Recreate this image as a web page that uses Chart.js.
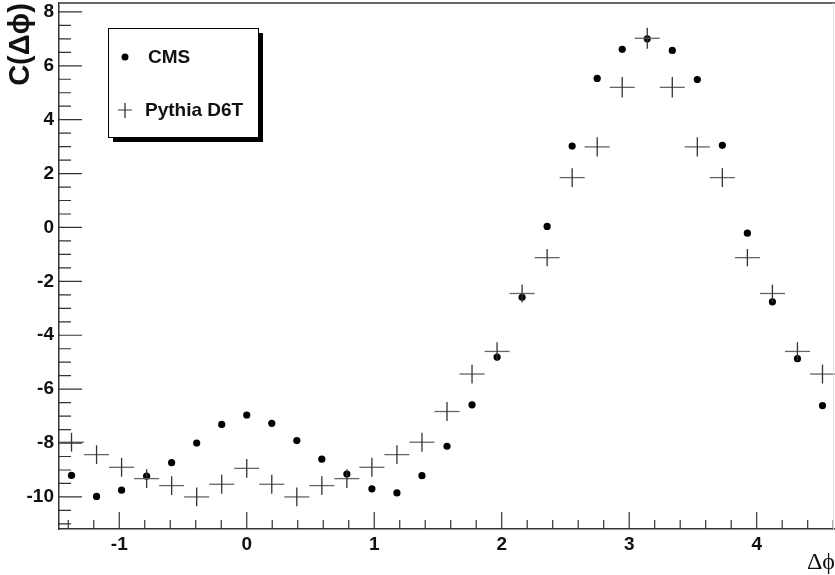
<!DOCTYPE html>
<html>
<head>
<meta charset="utf-8">
<script src="https://cdn.jsdelivr.net/npm/chart.js@4.4.1/dist/chart.umd.min.js"></script>
<style>
  html, body { margin: 0; padding: 0; background: #fff; overflow: hidden; }
  canvas { display: block; }
</style>
</head>
<body>
<canvas id="corrChart" width="835" height="575"></canvas>
<script>
// bins of width pi/16, centre of bin k at k*pi/16
const binIdx = [-7, -6, -5, -4, -3, -2, -1, 0, 1, 2, 3, 4, 5, 6, 7, 8,
                9, 10, 11, 12, 13, 14, 15, 16, 17, 18, 19, 20, 21, 22, 23];
const cmsVals = [-9.20, -9.98, -9.75, -9.23, -8.73, -8.00, -7.31, -6.96, -7.27, -7.91, -8.60,
                 -9.15, -9.70, -9.85, -9.21, -8.12, -6.58, -4.81, -2.59, 0.04, 3.02, 5.53,
                 6.61, 7.00, 6.57, 5.49, 3.05, -0.21, -2.76, -4.87, -6.61];
const pythiaVals = [-7.97, -8.43, -8.90, -9.32, -9.58, -10.00, -9.53, -8.94, -9.53, -10.00, -9.58,
                    -9.32, -8.90, -8.43, -7.97, -6.83, -5.44, -4.60, -2.45, -1.12, 1.85, 2.99,
                    5.20, 7.02, 5.20, 2.99, 1.85, -1.12, -2.45, -4.60, -5.44];
const pythiaErr = [0.35, 0.35, 0.35, 0.35, 0.35, 0.35, 0.35, 0.35, 0.35, 0.35, 0.35,
                   0.35, 0.35, 0.35, 0.35, 0.35, 0.35, 0.34, 0.33, 0.32, 0.35, 0.36,
                   0.38, 0.39, 0.38, 0.36, 0.35, 0.32, 0.33, 0.34, 0.35];
const yTickLabels = ['-10', '-8', '-6', '-4', '-2', '0', '2', '4', '6', '8'];

const binW = Math.PI / 16;
const xMin = -7.5 * binW;
const xMax = 23.5 * binW;
const yMin = -11.19;
const yMax = 8.33;

const boldFont = "'Liberation Sans', Arial, Helvetica, sans-serif";

// ROOT style frame: ticks drawn inside, top line, cross error bars and legend box
const rootFrame = {
    id: 'rootFrame',
    afterDatasetsDraw(chart) {
        const { ctx, chartArea: area, scales } = chart;
        const xs = scales.x, ys = scales.y;

        // pythia crosses: bin width horizontally, error vertically
        const meta = chart.getDatasetMeta(1);
        ctx.save();
        ctx.beginPath();
        ctx.rect(area.left, area.top, area.right - area.left, area.bottom - area.top);
        ctx.clip();
        ctx.lineWidth = 1.3;
        meta.data.forEach((pt, i) => {
            const xv = binIdx[i] * binW;
            const x0 = xs.getPixelForValue(xv - binW / 2);
            const x1 = xs.getPixelForValue(xv + binW / 2);
            const y0 = ys.getPixelForValue(pythiaVals[i] - pythiaErr[i]);
            const y1 = ys.getPixelForValue(pythiaVals[i] + pythiaErr[i]);
            ctx.strokeStyle = '#666';
            ctx.beginPath();
            ctx.moveTo(x0, pt.y); ctx.lineTo(x1, pt.y);
            ctx.stroke();
            ctx.strokeStyle = '#333';
            ctx.beginPath();
            ctx.moveTo(pt.x, y0); ctx.lineTo(pt.x, y1);
            ctx.stroke();
        });
        ctx.restore();
    },
    afterDraw(chart) {
        const { ctx, chartArea: area, scales } = chart;
        const xs = scales.x, ys = scales.y;
        ctx.save();
        ctx.strokeStyle = '#333';
        ctx.lineWidth = 1.2;

        // x ticks every 0.2, long at integers
        ctx.beginPath();
        for (let i = Math.ceil(xMin * 5); i <= Math.floor(xMax * 5); i++) {
            const px = xs.getPixelForValue(i / 5);
            const len = (i % 5 === 0) ? 17 : 9;
            ctx.moveTo(px, area.bottom);
            ctx.lineTo(px, area.bottom - len);
        }
        // y ticks every 0.5, long at even integers
        for (let i = Math.ceil(yMin * 2); i <= Math.floor(yMax * 2); i++) {
            const py = ys.getPixelForValue(i / 2);
            const len = (i % 4 === 0) ? 23 : 12;
            ctx.moveTo(area.left, py);
            ctx.lineTo(area.left + len, py);
        }
        ctx.stroke();

        // top frame line
        ctx.strokeStyle = '#666';
        ctx.lineWidth = 2;
        ctx.beginPath();
        ctx.moveTo(area.left, area.top);
        ctx.lineTo(area.right, area.top);
        ctx.stroke();
        // faint right edge
        ctx.strokeStyle = '#cfe4e4';
        ctx.lineWidth = 1;
        ctx.beginPath();
        ctx.moveTo(area.right - 1.5, area.top);
        ctx.lineTo(area.right - 1.5, area.bottom);
        ctx.stroke();

        // legend box with shadow
        const bx = 108, by = 28, bw = 150, bh = 109;
        ctx.fillStyle = '#000';
        ctx.fillRect(bx + 5, by + 5, bw, bh);
        ctx.fillStyle = '#fff';
        ctx.fillRect(bx, by, bw, bh);
        ctx.strokeStyle = '#000';
        ctx.lineWidth = 1;
        ctx.strokeRect(bx + 0.5, by + 0.5, bw, bh);

        const ds = chart.data.datasets;
        ctx.fillStyle = '#000';
        ctx.beginPath();
        ctx.arc(125, 57, 3.5, 0, Math.PI * 2);
        ctx.fill();
        ctx.lineWidth = 1.3;
        ctx.strokeStyle = '#666';
        ctx.beginPath();
        ctx.moveTo(118, 110); ctx.lineTo(132, 110);
        ctx.stroke();
        ctx.strokeStyle = '#333';
        ctx.beginPath();
        ctx.moveTo(125, 103); ctx.lineTo(125, 118);
        ctx.stroke();

        ctx.fillStyle = '#111';
        ctx.font = "bold 19px " + boldFont;
        ctx.textBaseline = 'middle';
        ctx.textAlign = 'left';
        ctx.fillText(ds[0].label, 148, 58);
        ctx.fillText(ds[1].label, 145, 111);
        ctx.restore();
    }
};

const ctx = document.getElementById('corrChart');
new Chart(ctx, {
    type: 'scatter',
    data: {
        datasets: [{
            label: 'CMS',
            data: binIdx.map((k, i) => ({ x: k * binW, y: cmsVals[i] })),
            backgroundColor: '#000',
            pointRadius: 3.6,
            pointBorderWidth: 0,
            pointStyle: 'circle'
        }, {
            label: 'Pythia D6T',
            data: binIdx.map((k, i) => ({ x: k * binW, y: pythiaVals[i] })),
            pointRadius: 0,
            showLine: false
        }]
    },
    plugins: [rootFrame],
    options: {
        responsive: false,
        devicePixelRatio: 1,
        animation: false,
        events: [],
        layout: { autoPadding: false, padding: { top: 3, right: 0, left: 0, bottom: 0 } },
        plugins: {
            legend: { display: false },
            tooltip: { enabled: false }
        },
        scales: {
            x: {
                type: 'linear',
                min: xMin,
                max: xMax,
                afterFit: (scale) => {
                    scale.height = 46;
                    scale.paddingLeft = 0;
                    scale.paddingRight = 0;
                },
                grid: { display: false, drawTicks: false },
                border: { display: true, color: '#333', width: 1.5 },
                ticks: {
                    stepSize: 1,
                    includeBounds: false,
                    padding: 4,
                    color: '#111',
                    font: { family: boldFont, size: 19, weight: 'bold' },
                    callback: (v) => String(v)
                },
                title: {
                    display: true,
                    text: '\u0394\u03d5',
                    align: 'end',
                    color: '#111',
                    padding: { top: 0, bottom: 0 },
                    font: { family: "'Liberation Serif', 'DejaVu Serif', serif", size: 24, lineHeight: 1 }
                }
            },
            y: {
                type: 'linear',
                min: yMin,
                max: yMax,
                afterFit: (scale) => {
                    scale.width = 59;
                    scale.paddingTop = 0;
                    scale.paddingBottom = 0;
                },
                grid: { display: false, drawTicks: false },
                border: { display: true, color: '#333', width: 1.5 },
                ticks: {
                    stepSize: 2,
                    includeBounds: false,
                    padding: 5,
                    color: '#111',
                    font: { family: boldFont, size: 19, weight: 'bold' },
                    callback: (v) => yTickLabels.includes(String(v)) ? String(v) : ''
                },
                title: {
                    display: true,
                    text: 'C(\u0394\u03d5)',
                    align: 'end',
                    color: '#111',
                    padding: { top: 4, bottom: 0 },
                    font: { family: boldFont, size: 29, weight: 'bold' }
                }
            }
        }
    }
});
</script>
</body>
</html>
